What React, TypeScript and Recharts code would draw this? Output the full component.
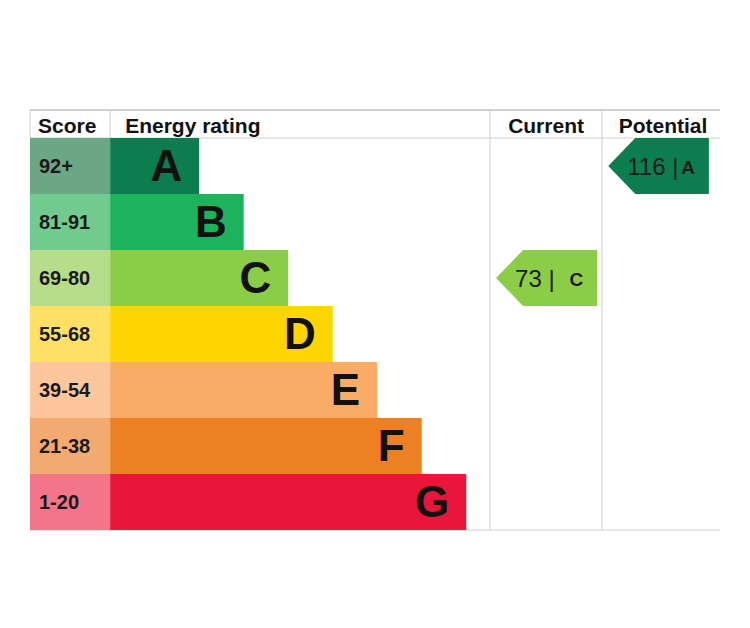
import { ComposedChart, Bar, XAxis, YAxis, Customized } from "recharts";

const bands = ["A", "B", "C", "D", "E", "F", "G"];
const scores = ["92+", "81-91", "69-80", "55-68", "39-54", "21-38", "1-20"];
const barLengths = [2, 3, 4, 5, 6, 7, 8];
const currentScore = 73;
const currentBand = "C";
const potentialScore = 116;
const potentialBand = "A";
const headers = ["Score", "Energy rating", "Current", "Potential"];

const BAR_COLORS = ["#0c7d4f", "#1bb35c", "#8ccd47", "#fed501", "#f9ac66", "#ee8024", "#e9153b"];
const CELL_COLORS = ["#6ba685", "#71cb8e", "#b6de8a", "#fee065", "#fdc69d", "#f2aa70", "#f2758a"];

const W = 750;
const H = 628;
const M = { top: 138, right: 30, bottom: 98, left: 30 };
const X_MIN = -1.8;
const X_MAX = 13.7;
// column layout in x units
const SCORE_SPAN = [X_MIN, 0];
const CUR_DIV = 8.535;
const POT_DIV = 11.05;
const CUR_SPAN = [8.67, 10.94];
const POT_SPAN = [11.19, 13.45];
const FONT = "'Liberation Sans', Arial, Helvetica, sans-serif";
const GRID = "#cfcfcf";

const rows = bands.map((b, i) => ({
  band: b,
  score: scores[i],
  cell: SCORE_SPAN,
  bar: [0, barLengths[i]],
  current: b === currentBand ? CUR_SPAN : null,
  potential: b === potentialBand ? POT_SPAN : null,
  color: BAR_COLORS[i],
  light: CELL_COLORS[i],
}));

const plotW = W - M.left - M.right;
const px = (v: number) => M.left + ((v - X_MIN) / (X_MAX - X_MIN)) * plotW;

function Table() {
  const top = 110;
  const head = M.top;
  const bottom = H - M.bottom;
  const right = W - M.right;
  const xs = [px(0), px(CUR_DIV), px(POT_DIV)];
  return (
    <g fontFamily={FONT}>
      <line x1={M.left} x2={right} y1={top} y2={top} stroke={GRID} strokeWidth={2} />
      <line x1={M.left} x2={right} y1={head} y2={head} stroke={GRID} strokeWidth={1} />
      <line x1={M.left} x2={right} y1={bottom} y2={bottom} stroke={GRID} strokeWidth={1} />
      <line x1={M.left} x2={M.left} y1={top} y2={head} stroke={GRID} strokeWidth={1} />
      <line x1={xs[0]} x2={xs[0]} y1={top} y2={head} stroke={GRID} strokeWidth={1} />
      <line x1={xs[1]} x2={xs[1]} y1={top} y2={bottom} stroke={GRID} strokeWidth={1} />
      <line x1={xs[2]} x2={xs[2]} y1={top} y2={bottom} stroke={GRID} strokeWidth={1} />
      <text x={M.left + 8} y={133} fontSize={21} fontWeight={700} fill="#111">
        {headers[0]}
      </text>
      <text x={xs[0] + 15} y={133} fontSize={21} fontWeight={700} fill="#111">
        {headers[1]}
      </text>
      <text x={(xs[1] + xs[2]) / 2} y={133} fontSize={21} fontWeight={700} fill="#111" textAnchor="middle">
        {headers[2]}
      </text>
      <text x={(xs[2] + right) / 2 + 2} y={133} fontSize={21} fontWeight={700} fill="#111" textAnchor="middle">
        {headers[3]}
      </text>
    </g>
  );
}

function ScoreCell(props: any) {
  const { x, y, width, height, payload } = props;
  if (!(width > 0)) return null;
  return (
    <g>
      <rect x={x} y={y} width={width} height={height} fill={payload.light} />
      <text x={x + 9} y={y + height / 2 + 7} fontSize={20} fontWeight={700} fill="#1a1a1a" fontFamily={FONT}>
        {payload.score}
      </text>
    </g>
  );
}

function RatingBar(props: any) {
  const { x, y, width, height, payload } = props;
  if (!(width > 0)) return null;
  return (
    <g>
      <rect x={x} y={y} width={width} height={height} fill={payload.color} />
      <text
        x={x + width - 17}
        y={y + height / 2 + 15}
        fontSize={44}
        fontWeight={700}
        fill="#111"
        textAnchor="end"
        fontFamily={FONT}
      >
        {payload.band}
      </text>
    </g>
  );
}

function makeArrow(value: number) {
  return function Arrow(props: any) {
    const { x, y, width, height, payload } = props;
    if (!(width > 0)) return null;
    const notch = 27;
    const cy = y + height / 2;
    const pts = [
      [x + notch, y],
      [x + width, y],
      [x + width, y + height],
      [x + notch, y + height],
      [x, cy],
    ]
      .map((p) => p.join(","))
      .join(" ");
    return (
      <g fontFamily={FONT}>
        <polygon points={pts} fill={payload.color} />
        <text x={x + 19} y={cy + 9} fontSize={24} fill="#1a1a1a">
          {value} |
        </text>
        <text x={x + width - 14} y={cy + 8} fontSize={19} fontWeight={700} fill="#1a1a1a" textAnchor="end">
          {payload.band}
        </text>
      </g>
    );
  };
}

const CurrentArrow = makeArrow(currentScore);
const PotentialArrow = makeArrow(potentialScore);

export default function App() {
  return (
    <div style={{ position: "absolute", left: 0, top: 0, background: "#fff" }}>
      <ComposedChart
        width={W}
        height={H}
        data={rows}
        layout="vertical"
        margin={M}
        barCategoryGap={0}
        barGap={0}
      >
        <XAxis type="number" domain={[X_MIN, X_MAX]} allowDataOverflow hide />
        <YAxis yAxisId="s" type="category" dataKey="band" hide />
        <YAxis yAxisId="e" type="category" dataKey="band" hide />
        <YAxis yAxisId="c" type="category" dataKey="band" hide />
        <YAxis yAxisId="p" type="category" dataKey="band" hide />
        <Customized component={<Table />} />
        <Bar yAxisId="s" dataKey="cell" shape={<ScoreCell />} isAnimationActive={false} />
        <Bar yAxisId="e" dataKey="bar" shape={<RatingBar />} isAnimationActive={false} />
        <Bar yAxisId="c" dataKey="current" shape={<CurrentArrow />} isAnimationActive={false} />
        <Bar yAxisId="p" dataKey="potential" shape={<PotentialArrow />} isAnimationActive={false} />
      </ComposedChart>
    </div>
  );
}
